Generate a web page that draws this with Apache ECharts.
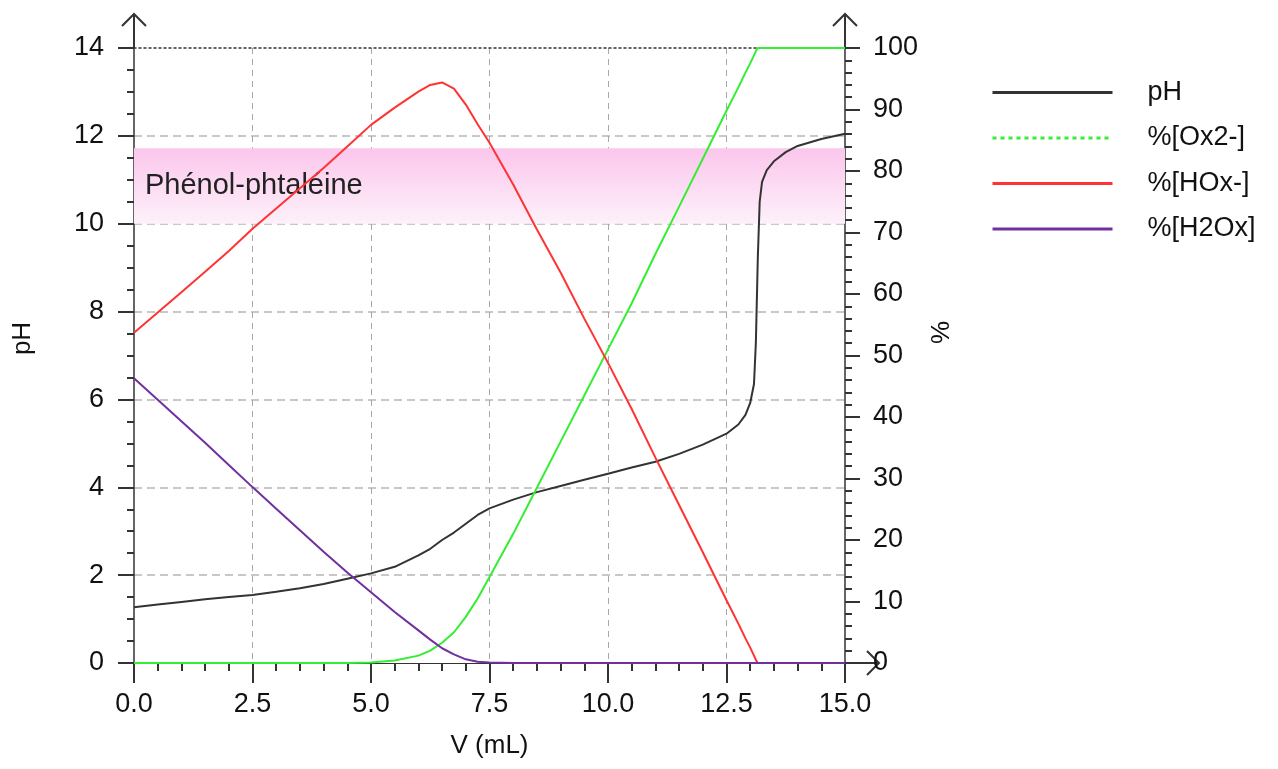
<!DOCTYPE html>
<html>
<head>
<meta charset="utf-8">
<title>Dosage acide oxalique</title>
<script src="https://cdn.jsdelivr.net/npm/echarts@6.0.0/dist/echarts.min.js"></script>
<style>
  html, body { margin: 0; background: #fff; }
  #chart { width: 1278px; height: 769px; }
</style>
</head>
<body>
<div id="chart"></div>
<script>
// volume de soude versé (mL)
var volume = [0, 0.5, 1, 1.5, 2, 2.5, 3, 3.5, 4, 4.5, 5, 5.5, 6, 6.25, 6.5, 6.75, 7, 7.25, 7.5, 8,
  8.5, 9, 9.5, 10, 10.5, 11, 11.5, 12, 12.5, 12.75, 12.9, 13, 13.08, 13.12, 13.16, 13.2, 13.25, 13.35, 13.5, 13.75, 14, 14.5, 15]
var phValues = [1.27, 1.33, 1.39, 1.45, 1.50, 1.55, 1.62, 1.70, 1.80, 1.92, 2.04, 2.19, 2.45, 2.60, 2.80, 2.97, 3.17, 3.37, 3.52, 3.72,
  3.89, 4.03, 4.17, 4.31, 4.45, 4.58, 4.76, 4.97, 5.22, 5.43, 5.65, 5.92, 6.35, 7.3, 9.2, 10.5, 10.95, 11.22, 11.42, 11.63, 11.77, 11.93, 12.05]
var ox2Values = [0, 0, 0, 0, 0, 0, 0, 0, 0, 0, 0.1, 0.4, 1.2, 2.0, 3.3, 5.0, 7.5, 10.5, 14, 21,
  28.5, 36, 43.5, 51, 58.5, 66.5, 74.2, 82, 89.8, 93.6, 96, 97.5, 98.8, 99.5, 100, 100, 100, 100, 100, 100, 100, 100, 100]
var hoxValues = [53.7, 57.0, 60.3, 63.6, 67.0, 70.6, 73.9, 77.2, 80.5, 84.0, 87.5, 90.3, 92.9, 94.0, 94.4, 93.4, 90.8, 87.6, 84.6, 77.8,
  70.5, 63.5, 56, 48.8, 41.3, 33.4, 25.7, 18, 10.2, 6.4, 4.0, 2.5, 1.2, 0.5, 0, 0, 0, 0, 0, 0, 0, 0, 0]
var h2oxValues = [46.3, 42.8, 39.3, 35.8, 32.2, 28.6, 25.1, 21.6, 18.1, 14.7, 11.5, 8.3, 5.3, 3.8, 2.4, 1.4, 0.6, 0.2, 0.1, 0,
  0, 0, 0, 0, 0, 0, 0, 0, 0, 0, 0, 0, 0, 0, 0, 0, 0, 0, 0, 0, 0, 0, 0]

var seriesNames = ['pH', '%[Ox2-]', '%[HOx-]', '%[H2Ox]']
var seriesColors = ['#333333', '#33ee33', '#ff3333', '#7030a0']
var indicatorName = 'Phénol-phtaléine'
var indicatorRange = [10, 11.72]

var font = 'Liberation Sans'
var textColor = '#111'

function pairs(ys) {
  return volume.map(function(v, i) { return [v, ys[i]] })
}

function lineSeries(idx, ys, yAxisIndex) {
  return {
    name: seriesNames[idx],
    type: 'line',
    yAxisIndex: yAxisIndex,
    data: pairs(ys),
    showSymbol: false,
    symbol: 'none',
    smooth: false,
    lineStyle: { color: seriesColors[idx], width: 2 },
    itemStyle: { color: seriesColors[idx] },
    emphasis: { disabled: true }
  }
}

var myChart = echarts.init(document.getElementById('chart'), null, { renderer: 'canvas' })

var phSeries = lineSeries(0, phValues, 0)
phSeries.markArea = {
  silent: true,
  itemStyle: {
    color: {
      type: 'linear', x: 0, y: 0, x2: 0, y2: 1,
      colorStops: [{ offset: 0, color: '#fbc6ec' }, { offset: 1, color: '#fdf1fa' }]
    }
  },
  label: {
    show: true,
    position: 'insideLeft',
    distance: 11,
    fontFamily: font,
    fontSize: 29,
    color: '#222'
  },
  data: [[{ name: indicatorName, yAxis: indicatorRange[0] }, { yAxis: indicatorRange[1] }]]
}

var option = {
  animation: false,
  backgroundColor: '#fff',
  textStyle: { fontFamily: font },
  grid: { left: 134, right: 433, top: 48, bottom: 106, containLabel: false, outerBoundsMode: 'none' },
  legend: {
    orient: 'vertical',
    left: 986,
    top: 74,
    itemWidth: 120,
    itemHeight: 14,
    itemGap: 18.5,
    selectedMode: false,
    itemStyle: { opacity: 0 },
    textStyle: { fontFamily: font, fontSize: 27, color: textColor, padding: [0, 0, 0, 30] },
    data: [
      { name: seriesNames[0], lineStyle: { width: 3 } },
      { name: seriesNames[1], lineStyle: { type: [4, 4], width: 3 } },
      { name: seriesNames[2], lineStyle: { width: 3 } },
      { name: seriesNames[3], lineStyle: { width: 3 } }
    ]
  },
  xAxis: [
    {
      type: 'value',
      min: 0,
      max: 15,
      interval: 2.5,
      position: 'bottom',
      name: 'V (mL)',
      nameLocation: 'middle',
      nameGap: 70,
      nameTextStyle: { fontFamily: font, fontSize: 26, color: textColor },
      axisLine: { show: true, onZero: false, lineStyle: { color: '#333', width: 1 } },
      axisTick: { show: true, inside: false, length: 20, lineStyle: { color: '#333', width: 2 } },
      minorTick: { show: true, splitNumber: 5, length: 8, lineStyle: { color: '#333', width: 2 } },
      axisLabel: {
        fontFamily: font, fontSize: 27, color: textColor, margin: 28,
        formatter: function(v) { return v.toFixed(1) }
      },
      splitLine: { show: true, showMinLine: false, showMaxLine: false, lineStyle: { color: '#a8a8a8', width: 1, type: [6, 5] } }
    },
    {
      type: 'value',
      min: 0,
      max: 15,
      position: 'top',
      axisLine: { show: true, onZero: false, lineStyle: { color: '#333', width: 1.5, type: [2, 3] } },
      axisTick: { show: false },
      axisLabel: { show: false },
      splitLine: { show: false }
    }
  ],
  yAxis: [
    {
      type: 'value',
      min: 0,
      max: 14,
      interval: 2,
      position: 'left',
      name: 'pH',
      nameLocation: 'middle',
      nameRotate: 90,
      nameGap: 98,
      nameTextStyle: { fontFamily: font, fontSize: 26, color: textColor, padding: [0, 0, 0, 34] },
      axisLine: { show: true, onZero: false, lineStyle: { color: '#333', width: 1.5 } },
      axisTick: { show: true, inside: false, length: 16, lineStyle: { color: '#333', width: 2 } },
      minorTick: { show: true, splitNumber: 4, length: 7, lineStyle: { color: '#333', width: 2 } },
      axisLabel: { fontFamily: font, fontSize: 27, color: textColor, margin: 30 },
      splitLine: { show: true, showMinLine: false, showMaxLine: false, lineStyle: { color: '#c8c8c8', width: 2, type: [8, 5] } }
    },
    {
      type: 'value',
      min: 0,
      max: 100,
      interval: 10,
      position: 'right',
      name: '%',
      nameLocation: 'middle',
      nameRotate: 90,
      nameGap: 84,
      nameTextStyle: { fontFamily: font, fontSize: 26, color: textColor, padding: [0, 0, 0, 46] },
      axisLine: { show: true, onZero: false, lineStyle: { color: '#666', width: 2 } },
      axisTick: { show: true, inside: false, length: 15, lineStyle: { color: '#333', width: 2 } },
      minorTick: { show: true, splitNumber: 5, length: 7, lineStyle: { color: '#333', width: 2 } },
      axisLabel: { fontFamily: font, fontSize: 27, color: textColor, margin: 28 },
      splitLine: { show: false }
    }
  ],
  series: [
    phSeries,
    lineSeries(1, ox2Values, 1),
    lineSeries(2, hoxValues, 1),
    lineSeries(3, h2oxValues, 1)
  ]
}

option && myChart.setOption(option)

// axis arrows beyond the plot area
var origin = myChart.convertToPixel({ xAxisIndex: 0, yAxisIndex: 0 }, [0, 0])
var topLeft = myChart.convertToPixel({ xAxisIndex: 0, yAxisIndex: 0 }, [0, 14])
var bottomRight = myChart.convertToPixel({ xAxisIndex: 0, yAxisIndex: 0 }, [15, 0])
var ext = 34
var head = 12
var arrowStyle = { stroke: '#333', lineWidth: 2, fill: null }

function upArrow(x, y) {
  return [
    { type: 'line', silent: true, shape: { x1: x, y1: y, x2: x, y2: y - ext }, style: arrowStyle },
    { type: 'polyline', silent: true, shape: { points: [[x - head, y - ext + head], [x, y - ext], [x + head, y - ext + head]] }, style: arrowStyle }
  ]
}

var arrows = upArrow(origin[0], topLeft[1]).concat(upArrow(bottomRight[0], topLeft[1]))
arrows.push(
  { type: 'line', silent: true, shape: { x1: bottomRight[0], y1: origin[1], x2: bottomRight[0] + ext, y2: origin[1] }, style: arrowStyle },
  { type: 'polyline', silent: true, shape: { points: [[bottomRight[0] + ext - head, origin[1] - head], [bottomRight[0] + ext, origin[1]], [bottomRight[0] + ext - head, origin[1] + head]] }, style: arrowStyle }
)
myChart.setOption({ graphic: arrows })
</script>
</body>
</html>
